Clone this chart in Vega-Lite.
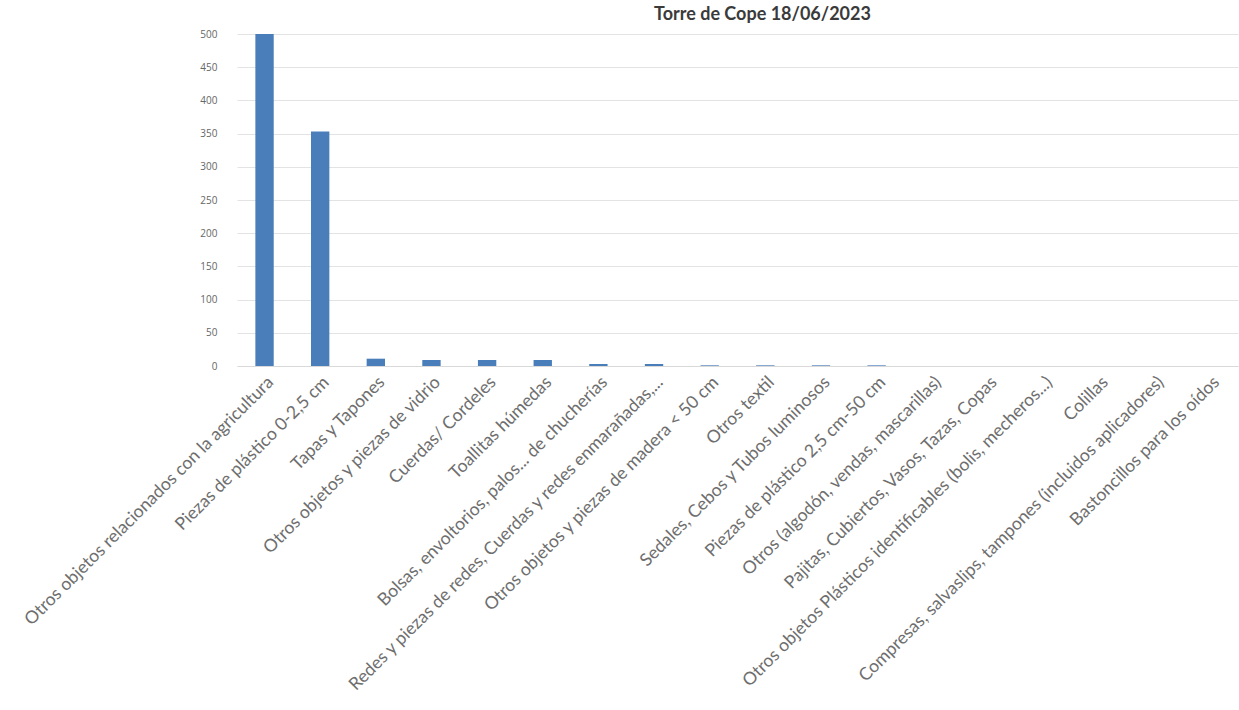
{
  "$schema": "https://vega.github.io/schema/vega-lite/v6.json",
  "autosize": "none",
  "width": 1001,
  "height": 332,
  "padding": {"left": 237, "top": 34, "right": 1, "bottom": 344},
  "background": "white",
  "title": {
    "text": "Torre de Cope 18/06/2023",
    "font": "Lato",
    "fontSize": 18,
    "fontWeight": "bold",
    "color": "#3a3a3a",
    "anchor": "middle",
    "dx": 25,
    "offset": 5
  },
  "data": {
    "values": [
      {"categoria": "Otros objetos relacionados con la agricultura", "valor": 500},
      {"categoria": "Piezas de plástico 0-2,5 cm", "valor": 353},
      {"categoria": "Tapas y Tapones", "valor": 11},
      {"categoria": "Otros objetos y piezas de vidrio", "valor": 9},
      {"categoria": "Cuerdas/ Cordeles", "valor": 9},
      {"categoria": "Toallitas húmedas", "valor": 9},
      {"categoria": "Bolsas, envoltorios, palos... de chucherías", "valor": 3},
      {"categoria": "Redes y piezas de redes, Cuerdas y redes enmarañadas,...", "valor": 3},
      {"categoria": "Otros objetos y piezas de madera < 50 cm", "valor": 1},
      {"categoria": "Otros textil", "valor": 1},
      {"categoria": "Sedales, Cebos y Tubos luminosos", "valor": 1},
      {"categoria": "Piezas de plástico 2,5 cm-50 cm", "valor": 1},
      {"categoria": "Otros (algodón, vendas, mascarillas)", "valor": 0},
      {"categoria": "Pajitas, Cubiertos, Vasos, Tazas, Copas", "valor": 0},
      {"categoria": "Otros objetos Plásticos identificables (bolis, mecheros...)", "valor": 0},
      {"categoria": "Colillas", "valor": 0},
      {"categoria": "Compresas, salvaslips, tampones (incluidos aplicadores)", "valor": 0},
      {"categoria": "Bastoncillos para los oídos", "valor": 0}
    ]
  },
  "mark": {"type": "bar", "color": "#4a7ebb"},
  "encoding": {
    "x": {
      "field": "categoria",
      "type": "nominal",
      "sort": null,
      "title": null,
      "scale": {"paddingInner": 0.67, "paddingOuter": 0.33},
      "axis": {
        "labelAngle": -45,
        "labelFont": "Lato",
        "labelFontSize": 17.6,
        "labelColor": "#6e6e6e",
        "labelLimit": 600,
        "labelPadding": 7,
        "ticks": false,
        "domainColor": "#d9d9d9",
        "grid": false
      }
    },
    "y": {
      "field": "valor",
      "type": "quantitative",
      "title": null,
      "scale": {"domain": [0, 500], "nice": false},
      "axis": {
        "values": [0, 50, 100, 150, 200, 250, 300, 350, 400, 450, 500],
        "labelFont": "Open Sans",
        "labelFontSize": 10,
        "labelColor": "#666666",
        "labelPadding": 20,
        "ticks": false,
        "domain": false,
        "gridColor": "#e3e3e3"
      }
    }
  },
  "config": {"view": {"stroke": null}}
}
